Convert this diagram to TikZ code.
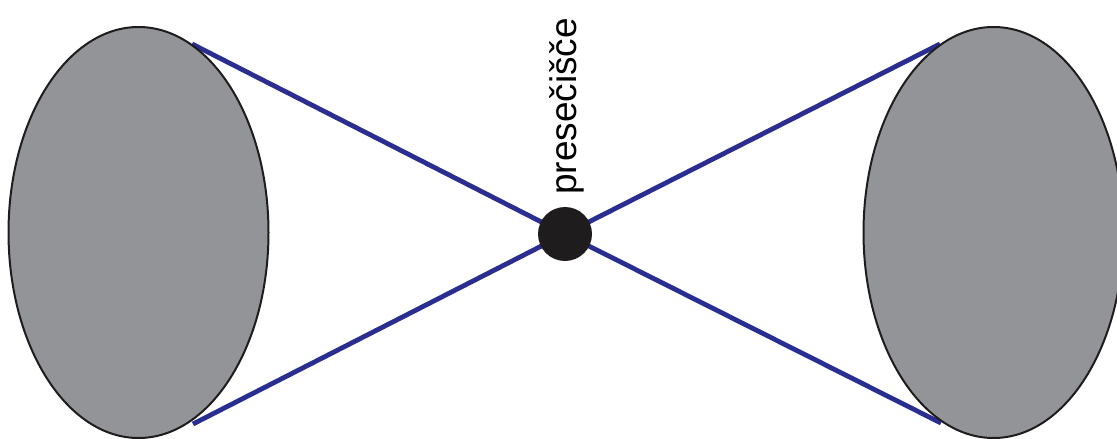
\documentclass[tikz,border=0pt]{standalone}
\usepackage{fontspec}
\setmainfont{Liberation Sans}
\usetikzlibrary{shapes.geometric}
\definecolor{blobgray}{RGB}{147,148,152}
\definecolor{lineblue}{RGB}{43,46,145}
\definecolor{dotblack}{RGB}{30,28,29}
\tikzset{
  blob/.style={ellipse, draw=dotblack, line width=2pt, fill=blobgray, minimum width=260pt, minimum height=411pt, inner sep=0pt},
  ray/.style={draw=lineblue, line width=4.8pt},
  hub/.style={circle, fill=dotblack, minimum size=54pt, inner sep=0pt},
  lbl/.style={rotate=90, anchor=base west, inner sep=0pt, font=\fontsize{37}{40}\selectfont}
}
\begin{document}
\begin{tikzpicture}[x=1pt,y=-1pt]
\useasboundingbox (0,0) rectangle (1117,439);
\coordinate (lt) at (192,44);
\coordinate (lb) at (193,424);
\coordinate (rt) at (940,44);
\coordinate (rb) at (941,423);
\coordinate (c) at (565,234);
\draw[ray] (c) -- (lt);
\draw[ray] (c) -- (lb);
\draw[ray] (c) -- (rt);
\draw[ray] (c) -- (rb);
\node[blob] (L) at (138.5,232.5) {};
\node[blob] (R) at (993.5,232.5) {};
\node[hub] (X) at (c) {};
\node[lbl] (T) at (576,195) {presečišče};
\end{tikzpicture}
\end{document}
